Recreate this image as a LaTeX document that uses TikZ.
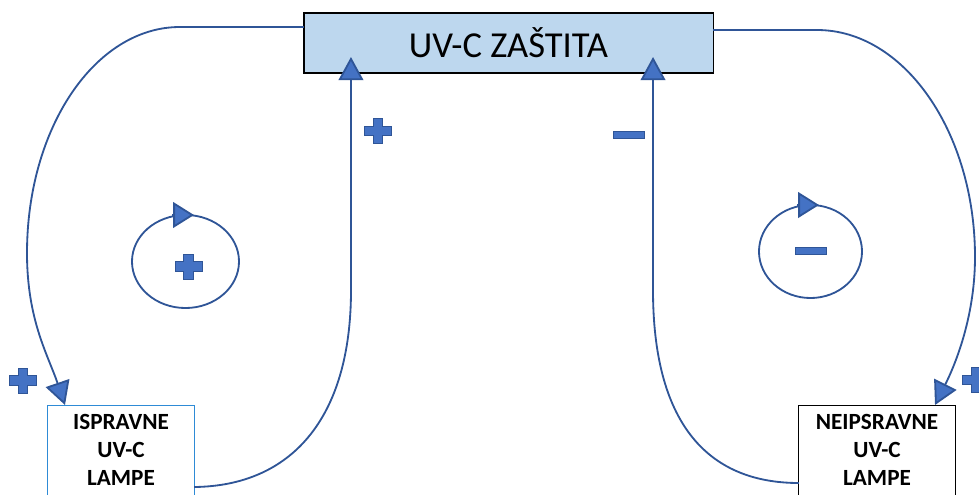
\documentclass[tikz,border=0pt]{standalone}
\usepackage{fontspec}
\setmainfont{Carlito}
\usetikzlibrary{arrows.meta}
\definecolor{loopblue}{RGB}{47,85,151}
\definecolor{signblue}{RGB}{68,114,196}
\definecolor{zastitafill}{RGB}{189,215,238}
\definecolor{lampblue}{RGB}{46,139,214}
\tikzset{
  zastitabox/.style={draw=black, line width=0.8pt, fill=zastitafill, inner sep=0pt, outer sep=0pt,
    minimum width=10.225cm, minimum height=1.5cm, font=\fontsize{26}{31}\selectfont},
  lampbox/.style={fill=white, line width=0.7pt, inner sep=0pt, outer sep=0pt, align=center,
    minimum height=2.25cm, font=\bfseries\fontsize{16.5}{19.8}\selectfont},
  flow/.style={draw=loopblue, line width=1.3pt,
    -{Triangle[length=0.58cm,width=0.62cm,fill=signblue]}},
  turn/.style={draw=loopblue, line width=1.3pt,
    -{Triangle[length=0.52cm,width=0.64cm,fill=signblue]}},
  loopline/.style={draw=loopblue, line width=1.3pt},
  sign/.style={fill=signblue, draw=loopblue, line width=0.7pt},
  plussign/.pic={
    \path[sign] (-4.8,-12.5) -- (4.8,-12.5) -- (4.8,-4.8) -- (13.5,-4.8) -- (13.5,4.8) -- (4.8,4.8)
      -- (4.8,12.5) -- (-4.8,12.5) -- (-4.8,4.8) -- (-13.5,4.8) -- (-13.5,-4.8) -- (-4.8,-4.8) -- cycle;
  }
}
\begin{document}
\begin{tikzpicture}[x=0.025cm,y=-0.025cm]
\useasboundingbox (0,0) rectangle (979,494);

% Boxes
\node[zastitabox] (zastita) at (508.5,43) {UV-C ZAŠTITA};
\node[lampbox, draw=lampblue, minimum width=3.65cm] (ispravne) at (121,450) {ISPRAVNE\\UV-C\\LAMPE};
\node[lampbox, draw=black, minimum width=3.9cm] (neispravne) at (877,450) {NEIPSRAVNE\\UV-C\\LAMPE};

% Outer loops
\draw[flow] ([yshift=0.4cm]zastita.west) -- (180,27)
  .. controls (95,27) and (27,128) .. (27,253)
  .. controls (27,320) and (48,355) .. ([xshift=0.425cm]ispravne.north west);
\draw[flow] ([yshift=0.325cm]zastita.east) -- (817,30)
  .. controls (904,30) and (975,132) .. (975,257)
  .. controls (975,320) and (953,369) .. ([xshift=-0.5cm]neispravne.north east);

% Inner loops
\draw[flow] ([yshift=0.2cm]ispravne.south east)
  .. controls (290,486) and (351,420) .. (351,290)
  -- ([xshift=1.175cm,yshift=0.4cm]zastita.south west);
\draw[flow] ([yshift=0.3cm]neispravne.south west)
  .. controls (705,483) and (653,420) .. (653,290)
  -- ([xshift=-1.5cm,yshift=0.4cm]zastita.south east);

% Rotation circles
\draw[loopline] (185.5,261.5) ellipse [x radius=1.3375cm, y radius=1.1625cm];
\draw[turn] (172,215) -- (194,215);
\draw[loopline] (810.5,251.5) ellipse [x radius=1.2875cm, y radius=1.1625cm];
\draw[turn] (797,205) -- (819,205);

% Signs
\foreach \pt in {(378,131), (23,380.5), (976,380), (188.5,266.5)} {
  \pic at \pt {plussign};
}
\foreach \pt in {(628.5,134.5), (811,251)} {
  \path[sign] \pt ++(-15.5,-3.5) rectangle ++(31,7);
}
\end{tikzpicture}
\end{document}
